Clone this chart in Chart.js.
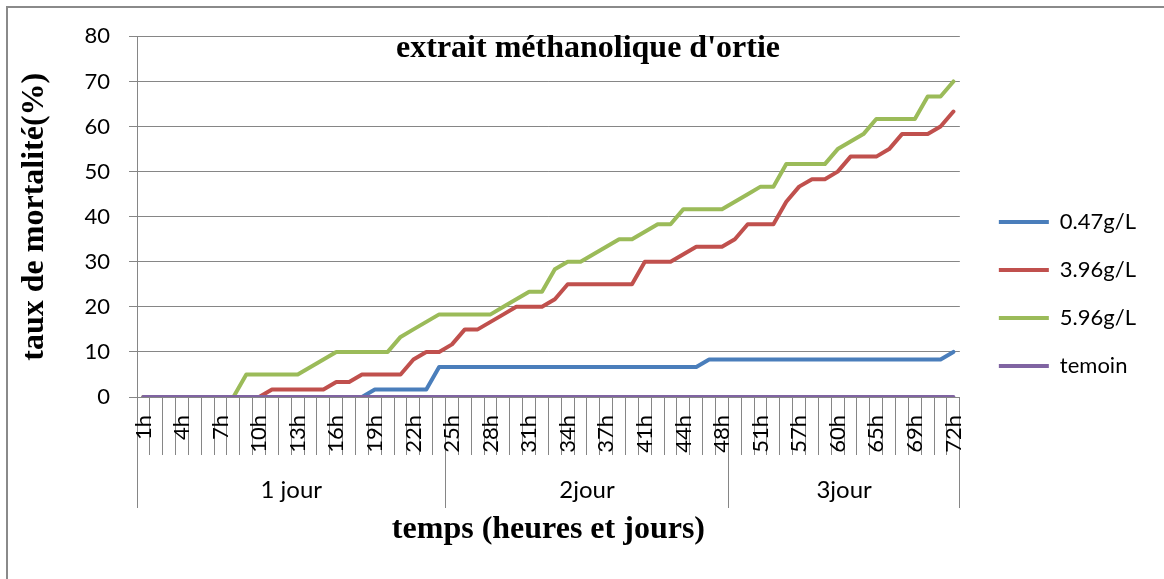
<!DOCTYPE html>
<html>
<head>
<meta charset="utf-8">
<script src="https://cdn.jsdelivr.net/npm/chart.js@4"></script>
<style>
    html, body { margin: 0; padding: 0; background: #ffffff; overflow: hidden; }
    #wrap { position: relative; width: 1164px; height: 579px; }
    #frame {
        position: absolute; left: 6px; top: 6px; width: 1300px; height: 700px;
        border-left: 2px solid #8a8a8a; border-top: 2px solid #8a8a8a;
        pointer-events: none;
    }
</style>
</head>
<body>
<div id="wrap">
    <canvas id="mortalite"></canvas>
    <div id="frame"></div>
</div>
<script>
// heures d'observation (1 jour / 2jour / 3jour)
const hours = [
    '1h', '2h', '3h', '4h', '5h', '6h', '7h', '8h', '9h', '10h', '11h', '12h',
    '13h', '14h', '15h', '16h', '17h', '18h', '19h', '20h', '21h', '22h', '23h', '24h',
    '25h', '26h', '27h', '28h', '29h', '30h', '31h', '32h', '33h', '34h', '35h', '36h', '37h',
    '38h', '40h', '41h', '42h', '43h', '44h', '46h', '47h', '48h',
    '49h', '50h', '51h', '53h', '55h', '57h', '58h', '59h', '60h', '62h', '63h', '65h',
    '66h', '67h', '69h', '70h', '71h', '72h'
];
const days = ['1 jour', '2jour', '3jour'];
const dayLengths = [24, 22, 18];

// taux de mortalite (%) par concentration
const dose047 = [
    0, 0, 0, 0, 0, 0, 0, 0, 0, 0, 0, 0, 0, 0, 0, 0, 0, 0,
    1.67, 1.67, 1.67, 1.67, 1.67,
    6.67, 6.67, 6.67, 6.67, 6.67, 6.67, 6.67, 6.67, 6.67, 6.67, 6.67, 6.67, 6.67, 6.67,
    6.67, 6.67, 6.67, 6.67, 6.67, 6.67, 6.67,
    8.33, 8.33, 8.33, 8.33, 8.33, 8.33, 8.33, 8.33, 8.33, 8.33, 8.33, 8.33, 8.33, 8.33,
    8.33, 8.33, 8.33, 8.33, 8.33, 10
];
const dose396 = [
    0, 0, 0, 0, 0, 0, 0, 0, 0, 0,
    1.67, 1.67, 1.67, 1.67, 1.67, 3.33, 3.33, 5, 5, 5, 5, 8.33, 10, 10,
    11.67, 15, 15, 16.67, 18.33, 20, 20, 20, 21.67, 25, 25, 25, 25, 25, 25,
    30, 30, 30, 31.67, 33.33, 33.33, 33.33,
    35, 38.33, 38.33, 38.33, 43.33, 46.67, 48.33, 48.33, 50, 53.33, 53.33, 53.33,
    55, 58.33, 58.33, 58.33, 60, 63.33
];
const dose596 = [
    0, 0, 0, 0, 0, 0, 0, 0,
    5, 5, 5, 5, 5, 6.67, 8.33, 10, 10, 10, 10, 10, 13.33, 15, 16.67, 18.33,
    18.33, 18.33, 18.33, 18.33, 20, 21.67, 23.33, 23.33, 28.33, 30, 30, 31.67, 33.33, 35, 35,
    36.67, 38.33, 38.33, 41.67, 41.67, 41.67, 41.67,
    43.33, 45, 46.67, 46.67, 51.67, 51.67, 51.67, 51.67, 55, 56.67, 58.33,
    61.67, 61.67, 61.67, 61.67, 66.67, 66.67, 70
];
const temoin = new Array(hours.length).fill(0);

const gray = '#868686';
const sans = 'Lato';
const serif = 'Liberation Serif';

// limites et milieux des groupes de jours, en unites de categorie
const dayEdges = [-0.5];
const dayCenters = [];
dayLengths.forEach(function (n) {
    const start = dayEdges[dayEdges.length - 1];
    dayCenters.push(start + n / 2);
    dayEdges.push(start + n);
});

function serie(label, values, color, order) {
    return {
        label: label,
        data: values,
        borderColor: color,
        backgroundColor: color,
        pointBorderColor: color,
        pointBackgroundColor: color,
        pointBorderWidth: 4,
        order: order
    };
}

const data = {
    labels: hours,
    datasets: [
        serie('0.47g/L', dose047, '#4a7ebb', 4),
        serie('3.96g/L', dose396, '#c0504d', 3),
        serie('5.96g/L', dose596, '#9bbb59', 2),
        serie('temoin', temoin, '#8064a2', 1)
    ]
};

const config = {
    type: 'line',
    data: data,
    options: {
        responsive: true,
        maintainAspectRatio: false,
        animation: false,
        elements: {
            line: { borderWidth: 4, tension: 0, borderCapStyle: 'round', borderJoinStyle: 'round' },
            point: { radius: 0, hoverRadius: 0 }
        },
        layout: {
            padding: { left: 30, top: 0, right: 18, bottom: 0 }
        },
        plugins: {
            title: {
                display: true,
                text: "extrait méthanolique d'ortie",
                color: '#000000',
                font: { family: serif, size: 32, weight: 'bold' },
                padding: { top: 30, bottom: -32 }
            },
            legend: {
                display: true,
                position: 'right',
                title: {
                    display: true,
                    text: ' ',
                    font: { size: 6 },
                    padding: 1
                },
                labels: {
                    usePointStyle: true,
                    pointStyle: 'line',
                    pointStyleWidth: 50,
                    color: '#000000',
                    font: { family: sans, size: 22 },
                    padding: 26,
                    sort: function (a, b) { return a.datasetIndex - b.datasetIndex; }
                }
            },
            tooltip: { enabled: false }
        },
        scales: {
            x: {
                type: 'category',
                offset: true,
                grid: {
                    offset: true,
                    drawOnChartArea: false,
                    color: gray,
                    tickLength: 58
                },
                border: { color: gray },
                ticks: {
                    autoSkip: false,
                    minRotation: 90,
                    maxRotation: 90,
                    padding: -40,
                    color: '#000000',
                    font: { family: sans, size: 22 },
                    callback: function (value, index) {
                        return index % 3 === 0 ? hours[index] : '';
                    }
                },
                afterFit: function (scale) { scale.height = 58; }
            },
            days: {
                type: 'linear',
                position: 'bottom',
                min: dayEdges[0],
                max: dayEdges[dayEdges.length - 1],
                grid: {
                    drawOnChartArea: false,
                    tickLength: 53,
                    color: function (ctx) {
                        return ctx.tick && dayEdges.includes(ctx.tick.value) ? gray : 'rgba(0,0,0,0)';
                    }
                },
                border: { display: false },
                ticks: {
                    autoSkip: false,
                    maxRotation: 0,
                    padding: -32,
                    color: '#000000',
                    font: { family: sans, size: 24 },
                    callback: function (value) {
                        const k = dayCenters.indexOf(value);
                        return k >= 0 ? days[k] : '';
                    }
                },
                afterBuildTicks: function (scale) {
                    scale.ticks = dayEdges.concat(dayCenters)
                        .sort(function (a, b) { return a - b; })
                        .map(function (v) { return { value: v }; });
                },
                title: {
                    display: true,
                    text: 'temps (heures et jours)',
                    color: '#000000',
                    font: { family: serif, size: 32, weight: 'bold' },
                    padding: { top: 0, bottom: 30 }
                },
                afterFit: function (scale) { scale.height = 124; }
            },
            y: {
                min: 0,
                max: 80,
                ticks: {
                    stepSize: 10,
                    padding: 19,
                    color: '#000000',
                    font: { family: sans, size: 22 }
                },
                grid: { color: gray, tickLength: 8 },
                border: { color: gray },
                title: {
                    display: true,
                    text: 'taux de mortalité(%)',
                    color: '#000000',
                    font: { family: serif, size: 32, weight: 'bold' },
                    padding: { top: -14, bottom: 0 }
                },
                afterFit: function (scale) { scale.width = 107; }
            },
            // marge entre la zone de trace et la legende
            gap: {
                type: 'linear',
                position: 'right',
                display: true,
                grid: { display: false },
                border: { display: false },
                ticks: { display: false },
                afterFit: function (scale) { scale.width = 13; }
            }
        }
    }
};

var chartMortalite = new Chart(
    document.getElementById('mortalite'),
    config
);
</script>
</body>
</html>
